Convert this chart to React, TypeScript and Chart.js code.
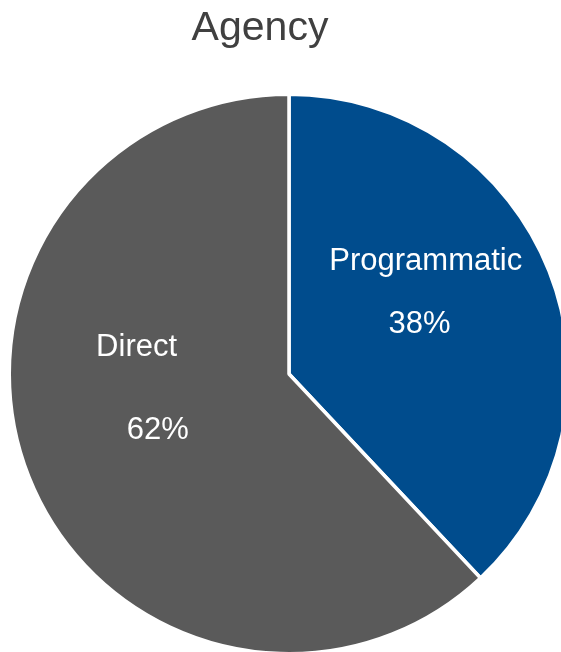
import { useEffect, useRef } from "react";
import { Chart, PieController, ArcElement } from "chart.js";

Chart.register(PieController, ArcElement);

const chartTitle = "Agency";
const categories = ["Programmatic", "Direct"];
const shares = [38, 62];
const sliceColors = ["#004C8D", "#5A5A5A"];

// Label placement inside each slice: [fraction of slice angle, fraction of radius]
const labelLayout = [
  { name: [0.364, 0.64], value: [0.5, 0.502] },
  { name: [0.646, 0.555], value: [0.497, 0.507] },
];

const FONT_FAMILY = '"Liberation Sans", Arial, Helvetica, sans-serif';
const LABEL_SIZE = 31;
const TITLE_SIZE = 41;

const titleAndLabels = {
  id: "titleAndLabels",
  afterDraw(chart: any) {
    const ctx = chart.ctx as CanvasRenderingContext2D;
    const meta = chart.getDatasetMeta(0);
    ctx.save();

    // chart title
    ctx.font = `${TITLE_SIZE}px ${FONT_FAMILY}`;
    ctx.fillStyle = "#404040";
    ctx.textAlign = "center";
    ctx.textBaseline = "alphabetic";
    ctx.fillText(chartTitle, 260, 40);

    // slice labels: category name and percentage
    ctx.font = `${LABEL_SIZE}px ${FONT_FAMILY}`;
    ctx.fillStyle = "#FFFFFF";
    const capHalf = LABEL_SIZE * 0.716 / 2;
    meta.data.forEach((arc: any, i: number) => {
      const { x, y, startAngle, endAngle, outerRadius } = arc.getProps(
        ["x", "y", "startAngle", "endAngle", "outerRadius"],
        true
      );
      const place = (spec: number[]) => {
        const a = startAngle + (endAngle - startAngle) * spec[0];
        const r = outerRadius * spec[1];
        return [x + Math.cos(a) * r, y + Math.sin(a) * r];
      };
      const n = place(labelLayout[i].name);
      const v = place(labelLayout[i].value);
      ctx.fillText(categories[i], n[0], n[1] + capHalf);
      ctx.fillText(`${shares[i]}%`, v[0], v[1] + capHalf);
    });
    ctx.restore();
  },
};

export default function App() {
  const canvasRef = useRef<HTMLCanvasElement | null>(null);

  useEffect(() => {
    if (!canvasRef.current) return;
    const chart = new Chart(canvasRef.current, {
      type: "pie",
      data: {
        labels: categories,
        datasets: [
          {
            data: shares,
            backgroundColor: sliceColors,
            borderColor: "#FFFFFF",
            borderWidth: 3.5,
          },
        ],
      },
      options: {
        responsive: false,
        animation: false,
        devicePixelRatio: 1,
        layout: { padding: { left: 7.5, right: 7.5, top: 92.5, bottom: 4.5 } },
        plugins: {
          legend: { display: false },
          tooltip: { enabled: false },
          title: { display: false },
        },
      },
      plugins: [titleAndLabels],
    });
    return () => chart.destroy();
  }, []);

  return (
    <div
      style={{
        position: "fixed",
        left: 0,
        top: 0,
        width: 561,
        height: 652,
        overflow: "hidden",
        background: "#FFFFFF",
      }}
    >
      <canvas
        ref={canvasRef}
        width={578}
        height={660}
        style={{ position: "absolute", left: 0, top: 0, width: 578, height: 660 }}
      />
    </div>
  );
}
